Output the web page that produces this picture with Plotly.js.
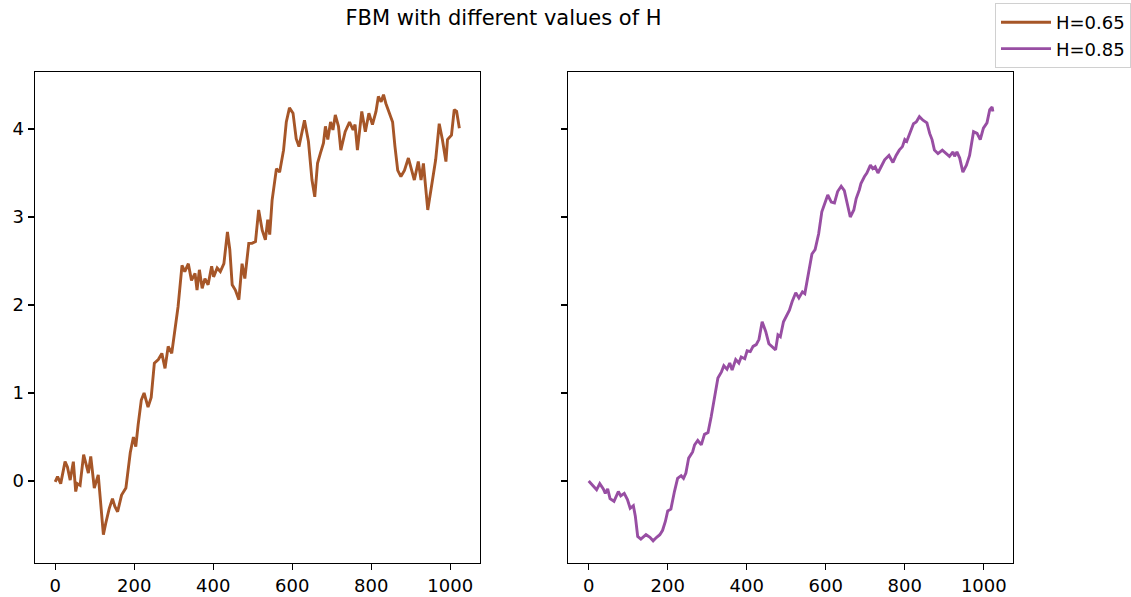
<!DOCTYPE html>
<html>
<head>
<meta charset="utf-8">
<script src="https://cdn.plot.ly/plotly-3.0.1.min.js"></script>
<style>html,body{margin:0;padding:0;background:#fff;}#chart{width:1131px;height:597px;}</style>
</head>
<body>
<div id="chart"></div>
<script>
// H = 0.65 series
const x065 = [0,6,14,25,31,38,46,52,56,63,72,78,84,90,99,109,122,128,137,145,151,158,168,179,190,198,204,210,218,225,235,243,247,251,261,270,278,286,295,303,311,321,328,337,345,354,359,365,372,379,387,396,401,410,418,427,436,442,448,456,465,473,480,490,498,507,515,524,532,538,543,549,560,568,578,585,593,602,610,617,626,631,641,650,657,664,671,679,684,690,697,703,709,717,723,734,745,754,759,765,776,785,794,803,812,818,825,831,837,846,854,860,867,875,884,894,900,909,919,926,932,943,955,963,972,980,989,993,1003,1010,1016,1023];
const y065 = [-0.01,0.05,-0.03,0.22,0.16,0.01,0.22,-0.12,-0.03,-0.05,0.30,0.20,0.09,0.28,-0.08,0.07,-0.61,-0.48,-0.31,-0.20,-0.29,-0.35,-0.16,-0.08,0.32,0.50,0.39,0.64,0.92,1.00,0.84,0.95,1.15,1.34,1.38,1.45,1.28,1.53,1.45,1.75,1.98,2.45,2.38,2.47,2.28,2.36,2.17,2.40,2.19,2.30,2.23,2.44,2.32,2.42,2.38,2.47,2.83,2.63,2.23,2.17,2.06,2.47,2.30,2.70,2.70,2.72,3.08,2.85,2.74,2.97,2.80,3.19,3.55,3.51,3.76,4.08,4.24,4.18,3.89,3.80,4.01,4.10,3.86,3.42,3.23,3.61,3.72,3.84,4.03,3.88,4.08,3.99,4.16,4.03,3.76,3.97,4.08,3.99,4.05,3.76,4.20,3.97,4.18,4.05,4.20,4.37,4.31,4.39,4.29,4.18,4.08,3.80,3.53,3.46,3.53,3.67,3.57,3.42,3.63,3.42,3.61,3.08,3.42,3.65,4.06,3.88,3.63,3.88,3.93,4.22,4.20,4.01];

// H = 0.85 series
const x085 = [0,10,20,28,37,42,48,54,64,75,81,90,98,105,113,118,124,132,145,155,163,172,180,187,194,200,208,217,225,234,240,246,253,263,268,276,285,293,302,310,319,327,336,342,350,357,363,372,380,386,395,401,409,416,424,431,439,448,456,465,473,479,485,493,502,508,515,524,532,541,547,556,565,573,582,590,599,605,614,622,630,639,647,654,662,671,677,685,689,698,704,713,719,725,732,741,749,760,770,778,786,794,800,805,814,822,829,837,846,856,863,869,875,884,895,905,913,922,926,932,939,947,956,964,974,983,991,999,1008,1015,1021,1023];
const y085 = [0.00,-0.05,-0.10,-0.03,-0.09,-0.14,-0.09,-0.20,-0.23,-0.12,-0.17,-0.14,-0.21,-0.31,-0.28,-0.40,-0.63,-0.66,-0.61,-0.64,-0.68,-0.64,-0.61,-0.56,-0.46,-0.34,-0.32,-0.12,0.03,0.06,0.03,0.09,0.26,0.33,0.41,0.46,0.41,0.53,0.55,0.73,0.96,1.17,1.24,1.31,1.27,1.34,1.26,1.38,1.34,1.41,1.39,1.48,1.47,1.53,1.55,1.61,1.81,1.70,1.56,1.52,1.49,1.66,1.64,1.81,1.89,1.94,2.04,2.14,2.08,2.15,2.13,2.36,2.58,2.63,2.81,3.06,3.19,3.25,3.17,3.16,3.29,3.35,3.30,3.16,3.00,3.08,3.21,3.31,3.38,3.46,3.50,3.59,3.55,3.57,3.50,3.58,3.65,3.70,3.62,3.70,3.76,3.80,3.88,3.86,3.97,4.06,4.08,4.14,4.10,4.07,3.95,3.88,3.76,3.72,3.76,3.72,3.69,3.74,3.69,3.74,3.67,3.51,3.59,3.70,3.97,3.95,3.88,4.01,4.07,4.22,4.25,4.20];

const seriesNames = ["H=0.65", "H=0.85"];
const xTicks = [0, 200, 400, 600, 800, 1000];
const yTicks = [0, 1, 2, 3, 4];
const titleText = "FBM with different values of H";

const W = 1131, H = 597;
const font = "DejaVu Sans, sans-serif";

const traces = [
  {x: x065, y: y065, type: "scatter", mode: "lines", name: seriesNames[0],
   line: {color: "#a65628", width: 2.9}, xaxis: "x", yaxis: "y", legendgroup: "a"},
  {x: x085, y: y085, type: "scatter", mode: "lines", name: seriesNames[1],
   line: {color: "#984ea3", width: 2.9}, xaxis: "x2", yaxis: "y2", legendgroup: "b"}
];

const axCommon = {
  showline: true, mirror: true, linecolor: "#000", linewidth: 1.3,
  ticks: "outside", ticklen: 6, tickwidth: 1.3, tickcolor: "#000",
  showgrid: false, zeroline: false, automargin: false,
  tickfont: {family: font, size: 18, color: "#000"}
};

const yDom = [(H - 563) / H, (H - 72) / H];
const yRange = [-0.932, 4.648];
const xRange = [-51.15, 1074.15];

const layout = {
  width: W, height: H,
  margin: {l: 0, r: 0, t: 0, b: 0, pad: 0},
  paper_bgcolor: "#fff", plot_bgcolor: "#fff",
  font: {family: font, color: "#000"},
  title: {text: titleText, font: {family: font, size: 21, color: "#000"},
          xref: "paper", x: 504 / W, xanchor: "center", yref: "paper", y: 1 - 18 / H, yanchor: "middle"},
  xaxis: Object.assign({}, axCommon, {domain: [35 / W, 480 / W], range: xRange, tickvals: xTicks, anchor: "y"}),
  yaxis: Object.assign({}, axCommon, {domain: yDom, range: yRange, tickvals: yTicks, anchor: "x"}),
  xaxis2: Object.assign({}, axCommon, {domain: [569 / W, 1014 / W], range: xRange, tickvals: xTicks, anchor: "y2"}),
  yaxis2: Object.assign({}, axCommon, {domain: yDom, range: yRange, tickvals: yTicks, showticklabels: false, anchor: "x2", matches: "y"}),
  showlegend: true,
  legend: {x: 996 / W, xanchor: "left", y: 1 - 3 / H, yanchor: "top",
           bgcolor: "#fff", bordercolor: "#d0d0d0", borderwidth: 1,
           font: {family: font, size: 18, color: "#000"},
           itemwidth: 50, entrywidth: 76,
           tracegroupgap: 4, traceorder: "normal"}
};

Plotly.newPlot("chart", traces, layout, {staticPlot: true, displayModeBar: false});
</script>
</body>
</html>
